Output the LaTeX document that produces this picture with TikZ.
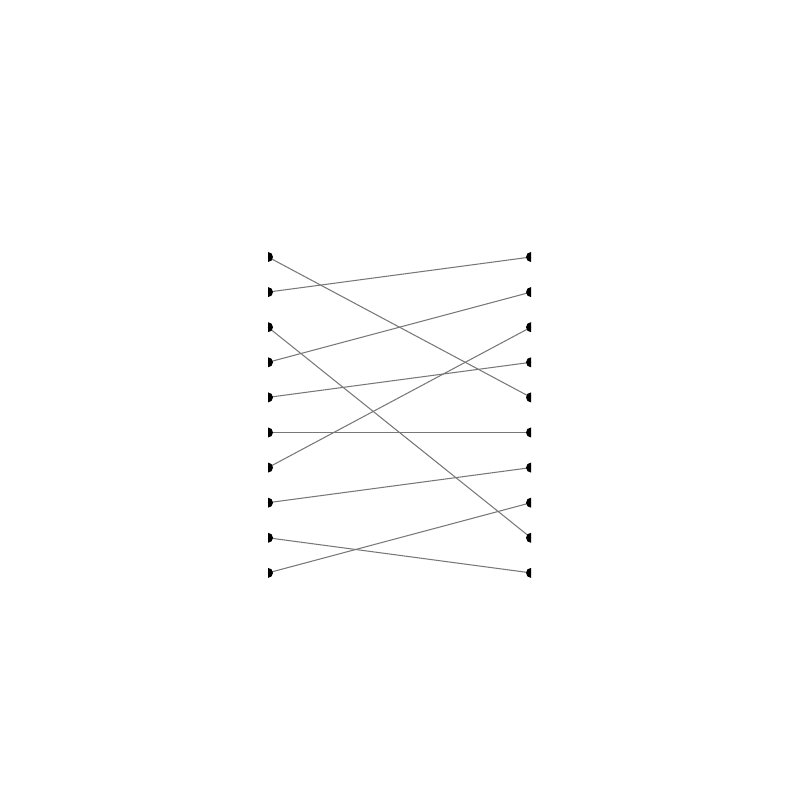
\documentclass[tikz,border=0pt]{standalone}
\usepackage{xcolor}
\usepackage{tikz}
\usetikzlibrary{positioning, calc}
\definecolor{wiregray}{RGB}{120, 120, 120}
\tikzset{
    wire/.style={
        draw=wiregray, line width=0.3pt
    },
    pin/.style={
        fill=black
    }
}
\begin{document}
\begin{tikzpicture}[x=0.01cm, y=0.01cm]

    \useasboundingbox (0,0) rectangle (800,800);

    % Hai cột điểm nối
    \foreach \i in {1,...,10} {
        \coordinate (L\i) at (268, {543-35.1*(\i-1)});
        \coordinate (R\i) at (531, {543-35.1*(\i-1)});
    }

    % Dây nối trái -> phải
    \draw[wire] (L1) -- (R5);
    \draw[wire] (L2) -- (R1);
    \draw[wire] (L3) -- (R9);
    \draw[wire] (L4) -- (R2);
    \draw[wire] (L5) -- (R4);
    \draw[wire] (L6) -- (R6);
    \draw[wire] (L7) -- (R3);
    \draw[wire] (L8) -- (R7);
    \draw[wire] (L9) -- (R10);
    \draw[wire] (L10) -- (R8);

    % Nửa hình tròn ở hai đầu
    \foreach \i in {1,...,10} {
        \fill[pin] ($(L\i)+(0,5)$) arc (90:-90:5) -- cycle;
        \fill[pin] ($(R\i)+(0,5)$) arc (90:270:5) -- cycle;
    }

\end{tikzpicture}
\end{document}
